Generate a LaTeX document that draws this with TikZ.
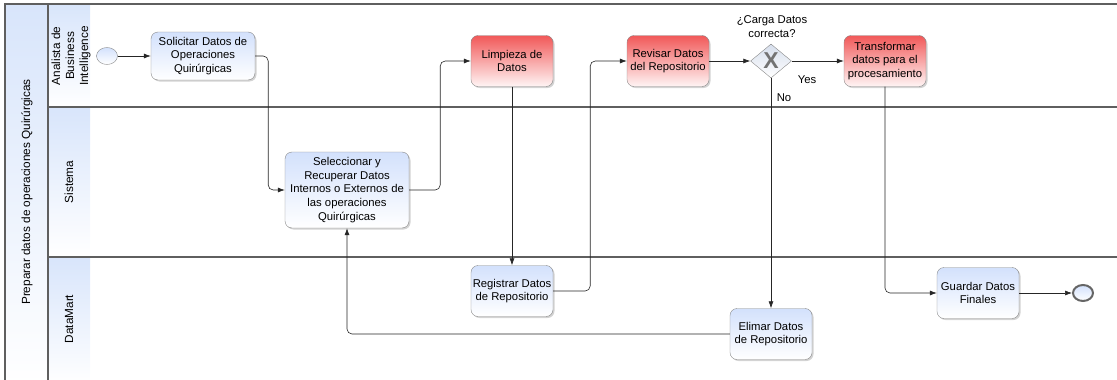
\documentclass[tikz,border=0pt]{standalone}
\usepackage{fontspec}
\setmainfont{Liberation Sans}
\usetikzlibrary{shapes.geometric,arrows.meta,shadows}

\definecolor{laneblue}{RGB}{216,229,251}
\definecolor{taskblue}{RGB}{211,225,252}
\definecolor{taskred}{RGB}{241,88,88}
\definecolor{gateblue}{RGB}{214,222,236}
\definecolor{rimgray}{RGB}{135,135,135}
\definecolor{poolgray}{RGB}{95,95,95}

\def\diagfont{\fontsize{11.3}{13.8}\selectfont}
\def\lanefont{\fontsize{11.8}{14}\selectfont}

\begin{document}
\begin{tikzpicture}[x=1pt,y=-1pt,
    thetask/.style={draw=rimgray,rounded corners=7pt,top color=taskblue,bottom color=white,
      drop shadow={shadow xshift=1.5pt,shadow yshift=-1.5pt,opacity=.35},
      minimum width=82pt,minimum height=51pt,inner sep=1pt,align=center,font=\diagfont},
    theredtask/.style={thetask,top color=taskred,bottom color=red!4},
    theevent/.style={ellipse,draw=rimgray,top color=taskblue,bottom color=white,
      minimum width=21pt,minimum height=17pt,inner sep=0pt},
    theflow/.style={-{Latex[length=7pt,width=5pt]},draw=black!85,line width=.6pt,rounded corners=5pt},
    theborder/.style={draw=poolgray,line width=1.2pt},
    thelabel/.style={font=\diagfont,align=center},
    thelane/.style={font=\lanefont,align=center,rotate=90}
  ]
  \clip (0,0) rectangle (1117,380);

  % pool and lane headers
  \fill[top color=laneblue,bottom color=white] (5,4) rectangle (48,385);
  \foreach \ya/\yb in {4/107,107/257,257/385} {
    \fill[top color=laneblue,bottom color=white] (48,\ya) rectangle (90,\yb);
  }
  \draw[theborder] (5,390) -- (5,4) -- (1130,4);
  \draw[theborder] (48,4) -- (48,390);
  \draw[theborder] (48,107) -- (1130,107);
  \draw[theborder] (48,257) -- (1130,257);

  \node[thelane] (pool) at (27,192) {Preparar datos de operaciones Quirúrgicas};
  \node[thelane] (analista) at (71,56) {Analista de\\Business\\Intelligence};
  \node[thelane] (sistema) at (69,182) {Sistema};
  \node[thelane] (datamart) at (69,319) {DataMart};

  % tasks
  \node[theevent] (start) at (107,56) {};
  \node[thetask,minimum width=104pt,minimum height=48pt] (solicitar) at (203,56)
    {Solicitar Datos de\\Operaciones\\Quirúrgicas};
  \node[thetask,minimum width=124pt,minimum height=76pt] (seleccionar) at (347,190)
    {Seleccionar y\\Recuperar Datos\\Internos o Externos de\\las operaciones\\Quirúrgicas};
  \node[theredtask] (limpieza) at (512,61) {Limpieza de\\Datos};
  \node[thetask] (registrar) at (512,291) {Registrar Datos\\de Repositorio};
  \node[theredtask] (revisar) at (668,61) {Revisar Datos\\del Repositorio};
  \node[diamond,draw=rimgray,top color=gateblue,bottom color=white,
    minimum width=41pt,minimum height=34pt,inner sep=0pt,text=black!55,
    font=\bfseries\fontsize{23}{23}\selectfont] (carga) at (771,61) {X};
  \node[thelabel] (cargatxt) at (772,27) {¿Carga Datos\\correcta?};
  \node[theredtask] (transformar) at (885,61) {Transformar\\datos para el\\procesamiento};
  \node[thetask] (elimar) at (771,334) {Elimar Datos\\de Repositorio};
  \node[thetask] (guardar) at (978,293) {Guardar Datos\\Finales};
  \node[theevent,draw=black!60,line width=2pt,minimum width=20pt,minimum height=16pt] (fin) at (1083,293) {};

  \node[thelabel] (yes) at (807,80) {Yes};
  \node[thelabel] (no) at (784,98) {No};

  % sequence flows
  \draw[theflow] (start) -- (solicitar);
  \draw[theflow] (solicitar.east) -- ++(13,0) |- (seleccionar.west);
  \draw[theflow] (seleccionar.east) -- ++(31,0) |- (limpieza.west);
  \draw[theflow] (limpieza) -- (registrar);
  \draw[theflow] (registrar.east) -- ++(37,0) |- (revisar.west);
  \draw[theflow] (revisar) -- (carga);
  \draw[theflow] (carga) -- (transformar);
  \draw[theflow] (carga) -- (elimar);
  \draw[theflow] (elimar.west) -| (seleccionar.south);
  \draw[theflow] (transformar.south) |- (guardar.west);
  \draw[theflow] (guardar) -- (fin);
\end{tikzpicture}
\end{document}
